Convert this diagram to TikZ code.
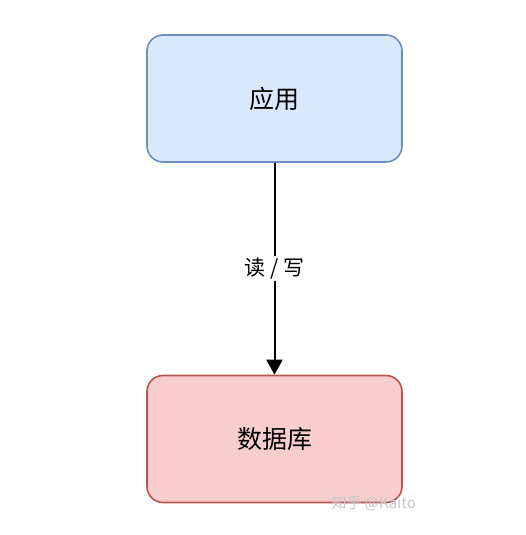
\documentclass[tikz,border=0pt]{standalone}
\usepackage{fontspec}
\newfontfamily\cjk{Noto Sans CJK SC}
\usetikzlibrary{arrows.meta}
\definecolor{bluefill}{HTML}{DAE8FC}
\definecolor{bluedraw}{HTML}{6C8EBF}
\definecolor{redfill}{HTML}{F8CECC}
\definecolor{reddraw}{HTML}{B85450}
\tikzset{
  box/.style={rectangle, rounded corners=16pt, minimum width=255pt, minimum height=127pt, line width=1.6pt, inner sep=0pt, font=\cjk\fontsize{25}{30}\selectfont},
  bluebox/.style={box, fill=bluefill, draw=bluedraw},
  redbox/.style={box, fill=redfill, draw=reddraw},
  conn/.style={-{Triangle[length=15pt,width=16pt]}, line width=2pt, black},
  lbl/.style={fill=white, inner sep=2pt, font=\cjk\fontsize{21}{24}\selectfont},
  wm/.style={font=\cjk\fontsize{15}{17}\selectfont, text=gray!45}
}
\begin{document}
\begin{tikzpicture}[x=1pt,y=-1pt]
\useasboundingbox (0,0) rectangle (525,535);
\node[bluebox] (app) at (274.5,98.5) {应用};
\node[redbox] (db) at (274.5,439) {数据库};
\draw[conn] (app) -- node[lbl, pos=0.5] (rw) {读 / 写} (db);
\node[wm, anchor=west] (mark) at (328,503) {知乎 @Kaito};
\end{tikzpicture}
\end{document}
